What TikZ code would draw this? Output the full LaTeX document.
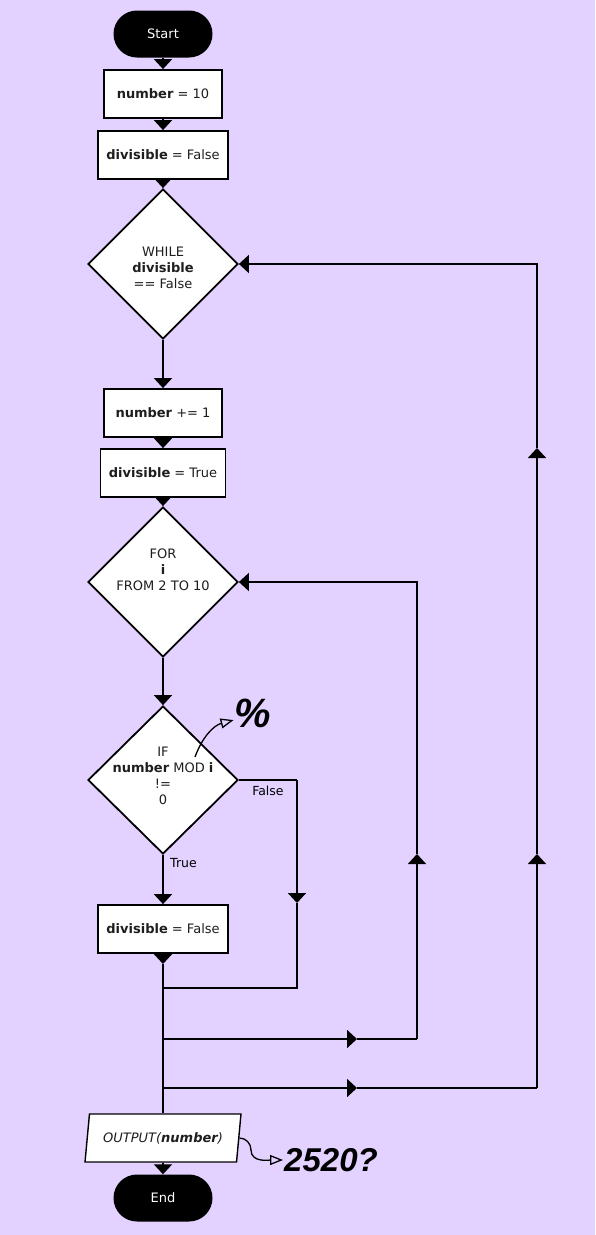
\documentclass[tikz,border=0pt]{standalone}
\usepackage{fontspec}
\setmainfont{DejaVu Sans}
\newfontfamily\notefont{Liberation Sans}
\usetikzlibrary{shapes.geometric,arrows.meta}
\definecolor{bgpurple}{HTML}{E3D1FF}
\definecolor{ink}{HTML}{1E1E1E}

\begin{document}
\begin{tikzpicture}[x=1pt,y=-1pt,
  font=\fontsize{13}{16}\selectfont, text=ink,
  line/.style={line width=1.8pt,black},
  flow/.style={line,-{Triangle[width=18pt,length=10pt]}},
  note/.style={line width=1.3pt,black,-{Triangle[open,width=10pt,length=13pt]}},
  term/.style={rectangle,rounded corners=23.5pt,fill=black,text=white,minimum width=99pt,minimum height=47pt},
  proc/.style={rectangle,draw,line width=1.8pt,fill=white,minimum height=48pt,inner sep=0pt},
  cond/.style={diamond,draw,line width=1.8pt,fill=white,minimum width=150pt,minimum height=150pt,inner sep=0pt},
  io/.style={trapezium,trapezium left angle=72.6,trapezium right angle=107.4,trapezium stretches=true,
    draw,line width=1.4pt,fill=white,minimum width=156pt,minimum height=48pt,inner sep=0pt},
  ctext/.style={align=center},
  lbl/.style={font=\fontsize{12.5}{14}\selectfont},
  big/.style={inner sep=1pt,text=black,font=\notefont\bfseries\itshape\fontsize{#1}{#1}\selectfont}]
  \fill[bgpurple] (0,0) rectangle (595,1235);

  \node[term] (start) at (163,34) {Start};
  \node[proc,minimum width=118pt] (num10) at (163,94) {\textbf{number} = 10};
  \node[proc,minimum width=130pt] (divF) at (163,155) {\textbf{divisible} = False};
  \node[cond] (while) at (163,264) {};
  \node[ctext] (whiletxt) at (163,268) {WHILE\\\textbf{divisible}\\== False};
  \node[proc,minimum width=118pt] (inc) at (163,413) {\textbf{number} += 1};
  \node[proc,minimum width=125pt] (divT) at (163,473) {\textbf{divisible} = True};
  \node[cond] (for) at (163,582) {};
  \node[ctext] (fortxt) at (163,570) {FOR\\\textbf{i}\\FROM 2 TO 10};
  \node[cond,minimum height=148pt] (ifmod) at (163,780) {};
  \node[ctext] (iftxt) at (163,776) {IF\\\textbf{number} MOD \textbf{i}\\!=\\0};
  \node[proc,minimum width=130pt] (setF) at (163,929) {\textbf{divisible} = False};
  \node[io] (out) at (163,1138) {\itshape OUTPUT(\textbf{number})};
  \node[term] (stop) at (163,1198) {End};

  \coordinate (m0) at (163,964);
  \coordinate (fR) at (297,780);
  \coordinate (fA) at (297,903);
  \coordinate (j1) at (163,988);
  \coordinate (j2) at (163,1039);
  \coordinate (h2) at (357,1039);
  \coordinate (c2) at (417,1039);
  \coordinate (u2) at (417,854);
  \coordinate (j3) at (163,1088);
  \coordinate (h3) at (357,1088);
  \coordinate (c3) at (537,1088);
  \coordinate (u3) at (537,854);
  \coordinate (v3) at (537,448);

  \draw[flow] (start) -- (num10);
  \draw[flow] (num10) -- (divF);
  \draw[flow] (divF) -- (while);
  \draw[flow] (while) -- (inc);
  \draw[flow] (inc) -- (divT);
  \draw[flow] (divT) -- (for);
  \draw[flow] (for) -- (ifmod);
  \draw[flow] (ifmod) -- node[lbl,pos=0.16,right=3pt] {True} (setF);
  \draw[line] (ifmod.east) -- node[lbl,below=2pt] {False} (fR);
  \draw[flow] (fR) -- (fA);
  \draw[line] (fA) |- (j1);
  \draw[flow] (setF) -- (m0);
  \draw[line] (m0) -- (out);
  \draw[flow] (out) -- (stop);

  \draw[flow] (j2) -- (h2);
  \draw[line] (h2) -- (c2);
  \draw[flow] (c2) -- (u2);
  \draw[flow] (u2) |- (for.east);
  \draw[flow] (j3) -- (h3);
  \draw[line] (h3) -- (c3);
  \draw[flow] (c3) -- (u3);
  \draw[flow] (u3) -- (v3);
  \draw[flow] (v3) |- (while.east);

  % notes
  \coordinate (modpt) at (195,757);
  \node[big=41] (pct) at (253,713) {\%};
  \draw[note] (modpt) to[out=70,in=195] (pct.200);
  \coordinate (bend) at (251,1150);
  \node[big=33] (val) at (331,1160) {2520?};
  \draw[note] (out.east) to[out=0,in=90] (bend) to[out=-90,in=180] (val.west);
\end{tikzpicture}
\end{document}
